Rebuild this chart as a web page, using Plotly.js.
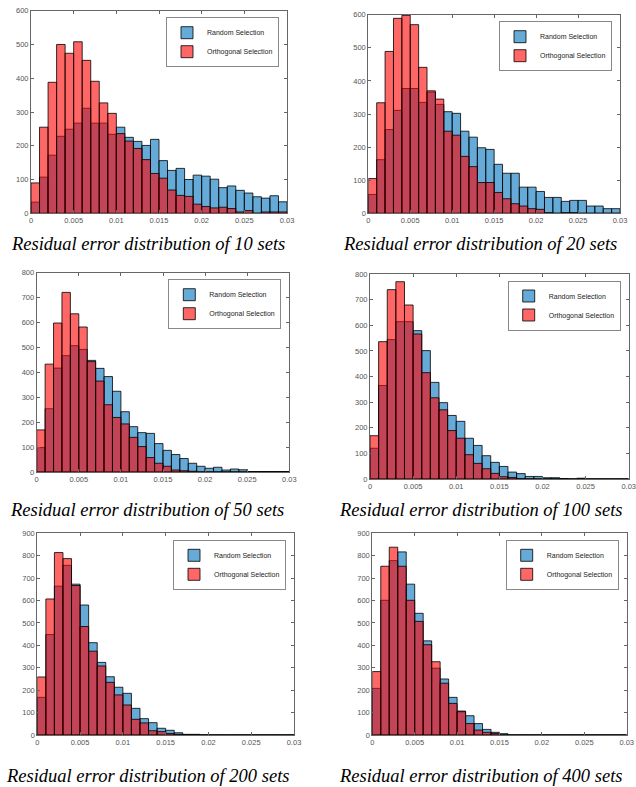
<!DOCTYPE html>
<html><head><meta charset="utf-8">
<script src="https://cdn.plot.ly/plotly-3.0.1.min.js"></script>
<style>html,body{margin:0;padding:0;background:#fff}</style>
</head><body><div id="chart" style="width:636px;height:787px"></div>
<script>
// ---- data ----
const binWidth = 0.001;
const binStarts = [0,0.001,0.002,0.003,0.004,0.005,0.006,0.007,0.008,0.009,0.010,0.011,0.012,0.013,0.014,0.015,0.016,0.017,0.018,0.019,0.020,0.021,0.022,0.023,0.024,0.025,0.026,0.027,0.028,0.029];
const xTickVals = [0,0.005,0.01,0.015,0.02,0.025,0.03];
const xTickText = ["0","0.005","0.01","0.015","0.02","0.025","0.03"];
const seriesNames = ["Random Selection","Orthogonal Selection"];
const captions = ["Residual error distribution of 10 sets","Residual error distribution of 20 sets","Residual error distribution of 50 sets","Residual error distribution of 100 sets","Residual error distribution of 200 sets","Residual error distribution of 400 sets"];
const yMax = [600,600,800,800,900,900];

const random10 = [33,107,172,228,249,267,311,267,267,234,255,225,213,201,219,156,127,133,100,113,110,101,76,81,68,60,49,45,52,34];
const orth10   = [90,255,388,500,474,508,453,391,327,296,236,214,192,159,118,104,69,53,50,27,20,16,18,14,4,8,0,4,4,4];
const random20 = [57,162,253,311,377,377,335,366,329,307,302,248,230,198,193,148,121,121,79,79,66,48,48,36,39,39,22,22,14,14];
const orth20   = [105,334,489,589,598,570,441,370,345,248,236,172,141,93,93,63,44,29,22,14,12,2,0,2,2,0,0,0,0,0];
const random50 = [98,254,417,467,507,492,448,416,383,324,242,182,158,155,114,87,70,54,35,23,15,19,8,12,9,2,2,2,2,2];
const orth50   = [169,433,598,721,635,582,443,365,270,219,193,139,102,58,35,23,8,5,3,0,0,0,0,0,0,0,0,0,0,0];
const random100 = [120,365,544,614,614,579,501,377,298,248,225,159,131,91,65,49,27,21,10,10,5,5,2,0,3,0,0,0,0,0];
const orth100   = [169,536,739,770,679,566,415,317,270,189,159,95,61,40,22,9,6,1,0,0,0,0,0,0,0,0,0,0,0,0];
const random200 = [168,448,664,757,673,580,412,324,260,213,186,119,73,55,30,21,10,3,3,0,0,0,0,0,0,0,0,0,0,0];
const orth200   = [259,607,814,787,667,484,374,308,235,179,134,70,54,19,15,7,3,1,0,0,0,0,0,0,0,0,0,0,0,0];
const random400 = [208,601,778,817,673,543,420,298,250,168,107,86,51,25,12,6,0,0,0,0,0,0,0,0,0,0,0,0,0,0];
const orth400   = [283,753,838,753,601,507,403,327,231,141,104,51,22,12,7,0,0,0,0,0,0,0,0,0,0,0,0,0,0,0];

const randomSets = [random10,random20,random50,random100,random200,random400];
const orthSets = [orth10,orth20,orth50,orth100,orth200,orth400];

// ---- layout geometry (pixels) ----
const W = 636, H = 787;
const boxes = [
  {l:31, r:287, t:10.7, b:213.3},
  {l:368.3, r:620, t:14.7, b:213.3},
  {l:36.7, r:289.3, t:272.7, b:472},
  {l:370, r:628.7, t:274, b:479},
  {l:37.3, r:294, t:533.3, b:735},
  {l:372.3, r:626.7, t:533.3, b:735}
];
const capPos = [{x:147.5,y:244},{x:479.5,y:244},{x:146.5,y:510},{x:480,y:510},{x:147,y:776},{x:480,y:776}];

const blueFill = 'rgba(0,114,189,0.6)';
const redFill = 'rgba(255,0,0,0.6)';
const edge = 'rgba(0,0,0,0.8)';
const axisCol = '#666';
const tickFont = {family:'Liberation Sans, Arial, sans-serif', size:7.5, color:'#555'};

const traces = [];
const layout = {
  width: W, height: H,
  margin: {l:0, r:0, t:0, b:0},
  paper_bgcolor: '#fff', plot_bgcolor: '#fff',
  barmode: 'overlay',
  showlegend: true,
  annotations: []
};

boxes.forEach((b, i) => {
  const n = i + 1;
  const xa = n === 1 ? 'x' : 'x' + n;
  const ya = n === 1 ? 'y' : 'y' + n;
  const lg = n === 1 ? 'legend' : 'legend' + n;
  traces.push({
    type:'bar', x: binStarts, y: randomSets[i], width: binWidth, offset: 0,
    name: seriesNames[0], xaxis: xa, yaxis: ya, legend: lg,
    marker: {color: blueFill, line: {color: edge, width: 1}}, hoverinfo:'x+y'
  });
  traces.push({
    type:'bar', x: binStarts, y: orthSets[i], width: binWidth, offset: 0,
    name: seriesNames[1], xaxis: xa, yaxis: ya, legend: lg,
    marker: {color: redFill, line: {color: edge, width: 1}}, hoverinfo:'x+y'
  });
  const xKey = n === 1 ? 'xaxis' : 'xaxis' + n;
  const yKey = n === 1 ? 'yaxis' : 'yaxis' + n;
  layout[xKey] = {
    domain: [b.l / W, b.r / W], anchor: ya, range: [0, 0.03],
    tickvals: xTickVals, ticktext: xTickText, ticks: 'inside', ticklen: 3,
    tickcolor: axisCol, showline: true, linecolor: axisCol, linewidth: 1,
    mirror: 'ticks', showgrid: false, zeroline: false, tickfont: tickFont,
    ticklabeloverflow: 'allow', fixedrange: true
  };
  layout[yKey] = {
    domain: [1 - b.b / H, 1 - b.t / H], anchor: xa, range: [0, yMax[i]],
    dtick: 100, tick0: 0, ticks: 'inside', ticklen: 3,
    tickcolor: axisCol, showline: true, linecolor: axisCol, linewidth: 1,
    mirror: 'ticks', showgrid: false, zeroline: false, tickfont: tickFont,
    ticklabeloverflow: 'allow', fixedrange: true
  };
  layout[lg] = {
    x: (b.r - 8) / W, y: 1 - (b.t + 6.5) / H, xanchor: 'right', yanchor: 'top',
    xref: 'paper', yref: 'paper',
    bgcolor: '#fff', bordercolor: '#888', borderwidth: 1,
    font: {family:'Liberation Sans, Arial, sans-serif', size:7, color:'#222'},
    itemwidth: 30, tracegroupgap: 0, traceorder: 'normal'
  };
  layout.annotations.push({
    text: captions[i], xref:'paper', yref:'paper',
    x: capPos[i].x / W, y: 1 - capPos[i].y / H, xanchor:'center', yanchor:'middle',
    showarrow: false,
    font: {family:'Liberation Serif, Times New Roman, serif', size:18.5, color:'#000', style:'italic'}
  });
});

Plotly.newPlot('chart', traces, layout, {displayModeBar:false, staticPlot:true});
</script></body></html>
